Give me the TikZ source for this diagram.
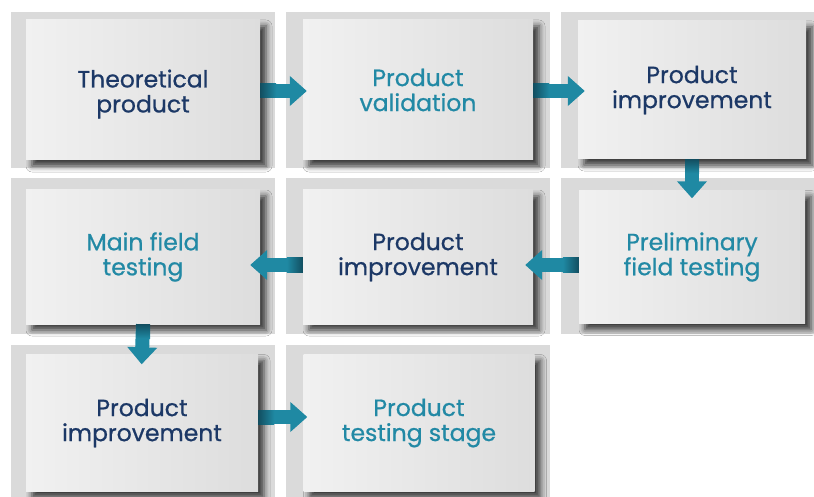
\documentclass[tikz,border=0pt]{standalone}
\usepackage{fontspec}
\newfontfamily\pop{Poppins}[FakeBold=0.7]
\usetikzlibrary{shadows.blur,arrows.meta}
\definecolor{navy}{RGB}{28,56,102}
\definecolor{tealtxt}{RGB}{34,137,165}
\definecolor{tealarr}{RGB}{31,137,163}
\definecolor{tealdk}{RGB}{18,78,96}
\definecolor{frameg}{RGB}{218,218,218}
\definecolor{boxL}{RGB}{241,241,241}
\definecolor{boxR}{RGB}{221,221,221}
\tikzset{
  cell/.style={fill=frameg, draw=none},
  box/.style={draw=none, left color=boxL, right color=boxR, inner sep=0pt,
    align=center, font=\pop\fontsize{23.5}{25}\selectfont,
    blur shadow={shadow xshift=6pt, shadow yshift=-6pt, shadow blur radius=6pt, shadow opacity=75}},
  dk/.style={text=navy},
  lt/.style={text=tealtxt},
  flow/.style={draw=tealarr, line width=14pt, -{Triangle[width=29pt,length=17pt]}},
  dkh/.style={left color=tealdk, right color=tealarr},
  dkhl/.style={right color=tealdk, left color=tealarr},
  dkv/.style={top color=tealdk, bottom color=tealarr}
}
\begin{document}
\begin{tikzpicture}[x=1pt,y=-1pt]
\useasboundingbox (0,0) rectangle (814,497);
\clip (0,0) rectangle (814,497);
\fill[white] (0,0) rectangle (814,497);
\path[cell] (11,12) rectangle (275,168);
\path[cell] (286,12) rectangle (550,168);
\path[cell] (561,12) rectangle (825,168);
\path[cell] (11,178) rectangle (275,334);
\path[cell] (286,178) rectangle (550,334);
\path[cell] (561,178) rectangle (825,334);
\path[cell] (11,345) rectangle (275,505);
\path[cell] (286,345) rectangle (550,505);
\node[box,dk,minimum width=234pt,minimum height=140pt] (a1) at (143,90) {\rule{0pt}{26pt}Theoretical\\product};
\node[box,lt,minimum width=230pt,minimum height=140pt] (a2) at (418,90) {Product\\validation};
\node[box,dk,minimum width=228pt,minimum height=138pt] (a3) at (692,90) {Product\\improvement};
\node[box,lt,minimum width=234pt,minimum height=134pt] (b1) at (143,257) {Main field\\testing};
\node[box,dk,minimum width=230pt,minimum height=134pt] (b2) at (418,257) {Product\\improvement};
\node[box,lt,minimum width=226pt,minimum height=133pt] (b3) at (692,257) {Preliminary\\field testing};
\node[box,dk,minimum width=232pt,minimum height=137pt] (c1) at (142,423) {Product\\improvement};
\node[box,lt,minimum width=231pt,minimum height=137pt] (c2) at (419,423) {Product\\testing stage};
% connectors
\draw[flow,shorten >=-4pt] ([yshift=-1pt]a1.east) -- ([yshift=-1pt]a2.west);
\draw[flow,shorten >=-7pt] ([yshift=-1pt]a2.east) -- ([yshift=-1pt]a3.west);
\draw[flow,shorten >=-8pt] (a3.south) -- (b3.north);
\draw[flow,shorten >=-8pt] ([yshift=-8pt]b3.west) -- ([yshift=-8pt]b2.east);
\draw[flow,shorten >=-10pt] ([yshift=-8pt]b2.west) -- ([yshift=-8pt]b1.east);
\draw[flow,shorten >=-10pt] (b1.south) -- (c1.north);
\draw[flow,shorten >=-4pt] ([yshift=6pt]c1.east) -- ([yshift=6pt]c2.west);
% shadowed starts of the connectors
\shade[dkh] ([yshift=-1pt]a1.east) ++(0,-7) rectangle ++(16,14);
\shade[dkh] ([yshift=-1pt]a2.east) ++(0,-7) rectangle ++(16,14);
\shade[dkv] (a3.south) ++(-7,0) rectangle ++(14,14);
\shade[dkhl] ([yshift=-8pt]b3.west) ++(0,-7) rectangle ++(-16,14);
\shade[dkhl] ([yshift=-8pt]b2.west) ++(0,-7) rectangle ++(-16,14);
\shade[dkv] (b1.south) ++(-7,0) rectangle ++(14,14);
\shade[dkh] ([yshift=6pt]c1.east) ++(0,-7) rectangle ++(16,14);
\end{tikzpicture}
\end{document}
